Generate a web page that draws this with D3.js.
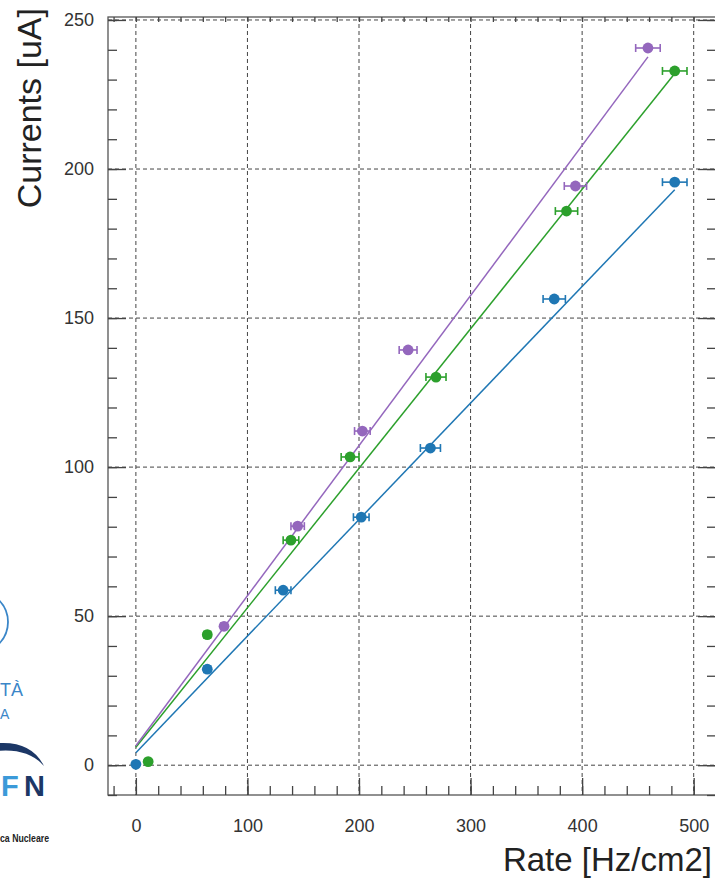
<!DOCTYPE html>
<html>
<head>
<meta charset="utf-8">
<script src="https://cdn.jsdelivr.net/npm/d3@7"></script>
<style>
body { margin: 0; background: #fff; }
svg { display: block; font-family: "Liberation Sans", Arial, sans-serif; }
.grid line { stroke: #444; stroke-dasharray: 4,3; stroke-width: 1; }
.grid path, .ax path { display: none; }
.ax line { stroke: #444; stroke-width: 1.3; }
.ax text { fill: #333; font-size: 18px; }
</style>
</head>
<body>
<svg></svg>
<script>
// measured points (rate, current) and horizontal errors
const blueX = [0, 64, 132, 202, 264, 375, 483]
const blueY = [0.3, 32.2, 58.7, 83.2, 106.4, 156.4, 195.6]
const blueErr = [0, 3, 7, 7, 9, 10, 11]

const greenX = [11, 64, 139, 192, 269, 386, 483]
const greenY = [1.2, 43.8, 75.5, 103.4, 130.2, 185.9, 232.9]
const greenErr = [0, 3, 7, 8, 9, 10, 11]

const purpleX = [79, 145, 203, 244, 394, 459]
const purpleY = [46.6, 80.2, 112.1, 139.3, 194.3, 240.6]
const purpleErr = [3, 6, 7, 8, 10, 11]

// linear fits: intercept, slope, last rate
const fitIntercept = [4.2, 6.0, 6.5]
const fitSlope = [0.391, 0.468, 0.5035]
const fitEnd = [483, 483, 459]

const xMajor = [0, 100, 200, 300, 400, 500]
const yMajor = [0, 50, 100, 150, 200, 250]

const colors = ['#1f77b4', '#2ca02c', '#9467bd']

const series = [
  { x: blueX, y: blueY, err: blueErr },
  { x: greenX, y: greenY, err: greenErr },
  { x: purpleX, y: purpleY, err: purpleErr }
].map((s, i) => ({
  color: colors[i],
  b: fitIntercept[i],
  m: fitSlope[i],
  end: fitEnd[i],
  pts: s.x.map((v, j) => ({ x: v, y: s.y[j], e: s.err[j] }))
}))

const width = 715,
  height = 878

const frameL = 108, frameR = 716, frameT = 17, frameB = 795

const svg = d3.select('svg')
  .attr('width', width)
  .attr('height', height)

const x = d3.scaleLinear().domain([-25, 520]).range([frameL, frameR])
const y = d3.scaleLinear().domain([-10, 251]).range([frameB, frameT])

// grid
svg.append('g')
  .attr('class', 'grid')
  .selectAll('line')
  .data(xMajor)
  .enter().append('line')
  .attr('x1', d => x(d)).attr('x2', d => x(d))
  .attr('y1', frameT).attr('y2', frameB)

svg.append('g')
  .attr('class', 'grid')
  .selectAll('line')
  .data(yMajor)
  .enter().append('line')
  .attr('x1', frameL).attr('x2', frameR)
  .attr('y1', d => y(d)).attr('y2', d => y(d))

// frame
svg.append('rect')
  .attr('x', frameL).attr('y', frameT)
  .attr('width', frameR - frameL).attr('height', frameB - frameT)
  .attr('fill', 'none')
  .attr('stroke', '#555')
  .attr('stroke-width', 1.3)

// axes, ROOT style ticks pointing inward
const xMinor = d3.range(-20, 521, 20)
const yMinor = d3.range(-10, 252, 10)

svg.append('g').attr('class', 'ax')
  .attr('transform', `translate(0,${frameB})`)
  .call(d3.axisBottom(x).tickValues(xMinor).tickSize(-9).tickFormat(''))
svg.append('g').attr('class', 'ax')
  .attr('transform', `translate(0,${frameB})`)
  .call(d3.axisBottom(x).tickValues(xMajor).tickSize(-17).tickPadding(24).tickFormat(d3.format('d')))

svg.append('g').attr('class', 'ax')
  .attr('transform', `translate(0,${frameT})`)
  .call(d3.axisBottom(x).tickValues(xMinor).tickSize(5).tickFormat(''))

svg.append('g').attr('class', 'ax')
  .attr('transform', `translate(${frameL},0)`)
  .call(d3.axisLeft(y).tickValues(yMinor).tickSize(-9).tickFormat(''))
svg.append('g').attr('class', 'ax')
  .attr('transform', `translate(${frameL},0)`)
  .call(d3.axisLeft(y).tickValues(yMajor).tickSize(-18).tickPadding(14).tickFormat(d3.format('d')))

svg.append('g').attr('class', 'ax')
  .attr('transform', `translate(${frameR},0)`)
  .call(d3.axisRight(y).tickValues(yMinor).tickSize(-9).tickFormat(''))
svg.append('g').attr('class', 'ax')
  .attr('transform', `translate(${frameR},0)`)
  .call(d3.axisRight(y).tickValues(yMajor).tickSize(-18).tickFormat(''))

// fit lines
svg.append('g')
  .selectAll('line')
  .data(series)
  .enter().append('line')
  .attr('x1', x(0))
  .attr('y1', d => y(d.b))
  .attr('x2', d => x(d.end))
  .attr('y2', d => y(d.b + d.m * d.end))
  .attr('stroke', d => d.color)
  .attr('stroke-width', 1.5)

// points with horizontal error bars
const sg = svg.selectAll('.series')
  .data(series)
  .enter().append('g')
  .attr('class', 'series')
  .attr('stroke', d => d.color)
  .attr('fill', d => d.color)

const pg = sg.selectAll('.pt')
  .data(d => d.pts)
  .enter().append('g')
  .attr('class', 'pt')

pg.append('line')
  .attr('x1', p => x(p.x - p.e)).attr('x2', p => x(p.x + p.e))
  .attr('y1', p => y(p.y)).attr('y2', p => y(p.y))
  .attr('stroke-width', 1.6)
pg.append('line')
  .attr('x1', p => x(p.x - p.e)).attr('x2', p => x(p.x - p.e))
  .attr('y1', p => y(p.y) - 4).attr('y2', p => y(p.y) + 4)
  .attr('stroke-width', 1.6)
pg.append('line')
  .attr('x1', p => x(p.x + p.e)).attr('x2', p => x(p.x + p.e))
  .attr('y1', p => y(p.y) - 4).attr('y2', p => y(p.y) + 4)
  .attr('stroke-width', 1.6)
pg.append('circle')
  .attr('cx', p => x(p.x))
  .attr('cy', p => y(p.y))
  .attr('r', 5.4)
  .attr('stroke', 'none')

// axis titles
svg.append('text')
  .attr('transform', 'translate(41,8) rotate(-90)')
  .attr('text-anchor', 'end')
  .attr('font-size', 34)
  .attr('fill', '#222')
  .text('Currents [uA]')

svg.append('text')
  .attr('x', 712)
  .attr('y', 871)
  .attr('text-anchor', 'end')
  .attr('font-size', 33)
  .attr('fill', '#222')
  .text('Rate [Hz/cm2]')

// logo fragments at the left edge
svg.append('circle')
  .attr('cx', -23).attr('cy', 622).attr('r', 31)
  .attr('fill', 'none').attr('stroke', '#3a86c8').attr('stroke-width', 1.8)
svg.append('text')
  .attr('x', 0).attr('y', 696)
  .attr('font-size', 18).attr('fill', '#3a86c8')
  .text('TÀ')
svg.append('text')
  .attr('x', 0).attr('y', 719)
  .attr('font-size', 14).attr('fill', '#3a86c8')
  .text('A')
svg.append('path')
  .attr('d', 'M-10,744 Q30,738 44,766 Q26,746 -10,752 Z')
  .attr('fill', '#1c3766')
svg.append('text')
  .attr('x', 1).attr('y', 796)
  .attr('font-size', 29).attr('font-weight', 'bold')
  .attr('fill', '#3b9ad9')
  .text('F')
svg.append('text')
  .attr('x', 24).attr('y', 796)
  .attr('font-size', 29).attr('font-weight', 'bold')
  .attr('fill', '#1c3766')
  .text('N')
svg.append('text')
  .attr('x', 0).attr('y', 842)
  .attr('textLength', 49).attr('lengthAdjust', 'spacingAndGlyphs')
  .attr('font-size', 10).attr('font-weight', 'bold').attr('fill', '#222')
  .text('ca Nucleare')
</script>
</body>
</html>
